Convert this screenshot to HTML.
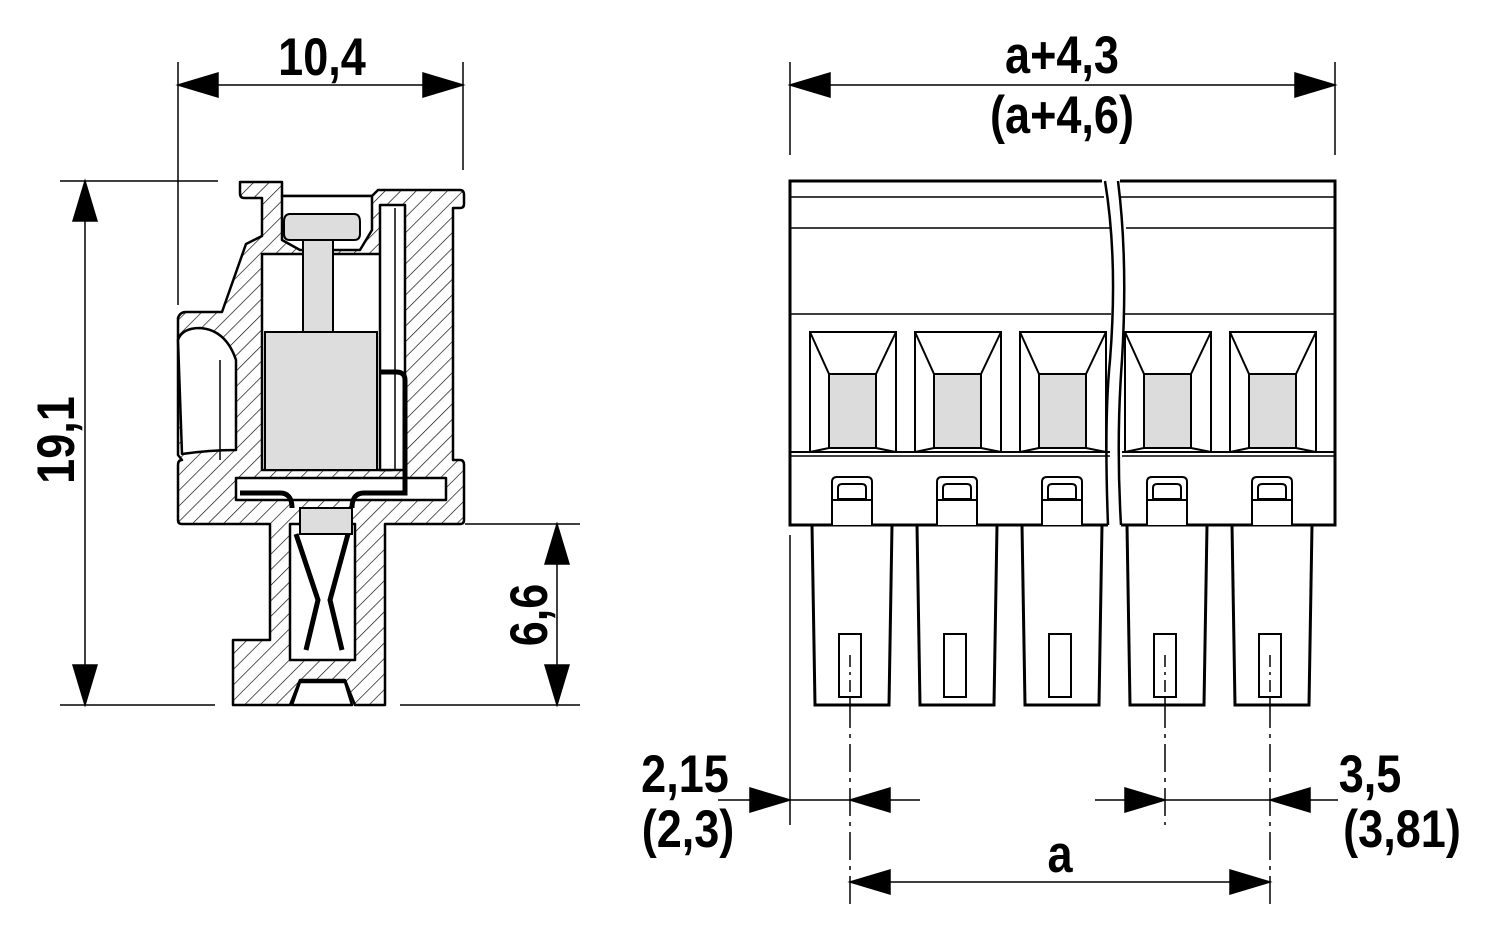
<!DOCTYPE html>
<html><head><style>
html,body{margin:0;padding:0;background:#fff;}
svg{display:block;}
text{font-family:"Liberation Sans",sans-serif;font-weight:bold;fill:#000;}
</style></head><body>
<svg width="1500" height="937" viewBox="0 0 1500 937" xmlns="http://www.w3.org/2000/svg">
<defs>
<pattern id="h" patternUnits="userSpaceOnUse" width="11" height="11" patternTransform="rotate(45)">
<rect width="11" height="11" fill="#fff"/><line x1="0" y1="0" x2="0" y2="11" stroke="#000" stroke-width="1.3"/>
</pattern>
</defs>

<g stroke="#000" stroke-width="1.5" fill="none">
<line x1="178" y1="62" x2="178" y2="305"/>
<line x1="463" y1="62" x2="463" y2="170"/>
<line x1="60" y1="181" x2="218" y2="181"/>
<line x1="60" y1="705" x2="215" y2="705"/>
<line x1="400" y1="705" x2="580" y2="705"/>
<line x1="465" y1="524" x2="580" y2="524"/>
</g>
<g fill="#000" stroke="#000" stroke-width="1.5">
<line x1="178" y1="85" x2="463" y2="85"/>
<path d="M178,85l40,-12v24z M463,85l-40,-12v24z"/>
<line x1="85" y1="181" x2="85" y2="705"/>
<path d="M85,181l-12,40h24z M85,705l-12,-40h24z"/>
<line x1="557" y1="524" x2="557" y2="705"/>
<path d="M557,524l-12,40h24z M557,705l-12,-40h24z"/>
<line x1="790" y1="85" x2="1335" y2="85"/>
<path d="M790,85l40,-12v24z M1335,85l-40,-12v24z"/>
<line x1="718" y1="800" x2="920" y2="800"/>
<path d="M790,800l-40,-12v24z M850,800l40,-12v24z"/>
<line x1="1095" y1="800" x2="1338" y2="800"/>
<path d="M1165,800l-40,-12v24z M1270,800l40,-12v24z"/>
<line x1="850" y1="882" x2="1270" y2="882"/>
<path d="M850,882l40,-12v24z M1270,882l-40,-12v24z"/>
</g>
<g stroke="#000" stroke-width="1.5" fill="none">
<line x1="790" y1="62" x2="790" y2="155"/>
<line x1="1335" y1="62" x2="1335" y2="155"/>
<line x1="790" y1="535" x2="790" y2="825"/>
<line x1="850" y1="700" x2="850" y2="905" stroke-dasharray="28,6,4,6"/>
<line x1="1165" y1="700" x2="1165" y2="825" stroke-dasharray="28,6,4,6"/>
<line x1="1270" y1="700" x2="1270" y2="905" stroke-dasharray="28,6,4,6"/>
</g>

<g font-size="53">
<text transform="translate(322,75) scale(0.85,1)" text-anchor="middle">10,4</text>
<text transform="translate(74,440) rotate(-90) scale(0.85,1)" text-anchor="middle">19,1</text>
<text transform="translate(547,615) rotate(-90) scale(0.85,1)" text-anchor="middle">6,6</text>
<text transform="translate(1062,73) scale(0.85,1)" text-anchor="middle">a+4,3</text>
<text transform="translate(1062,133) scale(0.85,1)" text-anchor="middle">(a+4,6)</text>
<text transform="translate(685,792) scale(0.85,1)" text-anchor="middle">2,15</text>
<text transform="translate(688,847) scale(0.85,1)" text-anchor="middle">(2,3)</text>
<text transform="translate(1370,792) scale(0.85,1)" text-anchor="middle">3,5</text>
<text transform="translate(1402,847) scale(0.85,1)" text-anchor="middle">(3,81)</text>
<text transform="translate(1060,872) scale(0.85,1)" text-anchor="middle">a</text>
</g>

<g stroke="#000" stroke-width="2.5" stroke-linejoin="round">
<path fill="url(#h)" d="M240,182 H282 V196 H372 L378,190 H460 Q464,190 464,195 V204 Q464,208 460,208 H453 V460 H460 Q464,460 464,465 V520 Q464,524 460,524 H385 V705 H355 L345,680 H300 L290,705 H233 V640 H270 V524 H182 Q178,524 178,520 V465 Q178,460 182,460 L178,455 V318 Q180,312 186,312 H222 L246,244 L262,236 V198 H244 Q240,198 240,193 Z"/>
<path fill="#fff" d="M262,254 H392 V470 H262 Z"/>
<path fill="#fff" d="M282,196 H372 V230 L360,250 H300 L282,240 Z"/>
<path fill="#fff" d="M380,205 H405 V470 H380 Z"/>
<path fill="#fff" d="M178,340 Q182,328 200,328 Q226,330 236,360 L236,450 Q210,450 182,454 Z"/>
<path fill="#fff" d="M236,478 H446 V500 H236 Z"/>
<path fill="#fff" d="M290,524 H355 V660 H290 Z"/>
<path fill="#fff" d="M300,682 H345 L352,705 H292 Z"/>
</g>
<g stroke="#000" stroke-width="2" fill="#ddd">
<path d="M290,214 H354 Q360,214 360,222 V234 Q360,240 354,240 H290 Q284,240 284,234 V222 Q284,214 290,214 Z"/>
<rect x="303" y="240" width="30" height="92"/>
<rect x="265" y="332" width="112" height="138"/>
<rect x="300" y="508" width="52" height="26"/>
<path fill="none" stroke-width="5" d="M240,493 H280 Q292,493 292,508 M352,508 Q352,493 364,493 H405 V380 Q405,372 396,372 H380"/>
<path fill="none" stroke-width="5" d="M296,534 L318,600 L306,650 M348,534 L330,600 L342,650"/>
</g>
<g stroke="#000" stroke-width="1.5" fill="none">
<line x1="395" y1="208" x2="395" y2="470"/>
<line x1="220" y1="460" x2="220" y2="360"/>
<line x1="262" y1="470" x2="392" y2="470"/>
</g>

<g stroke="#000" fill="none" stroke-width="3">
<path d="M1102,181 H790 V525 H1108"/>
<path d="M1120,181 H1335 V525 H1121"/>
<path stroke-width="2.5" d="M1105,181 Q1118,260 1110,360 Q1104,420 1108,525 M1118,181 Q1128,260 1122,360 Q1116,440 1121,525" />
</g>
<g stroke="#000" stroke-width="1.5" fill="none">
<line x1="790" y1="197" x2="1104" y2="197"/><line x1="1120" y1="197" x2="1335" y2="197"/>
<line x1="790" y1="228" x2="1110" y2="228"/><line x1="1126" y1="228" x2="1335" y2="228"/>
<line x1="790" y1="314" x2="1111" y2="314"/><line x1="1124" y1="314" x2="1335" y2="314"/>
<line x1="790" y1="452" x2="1110" y2="452" stroke-width="2"/><line x1="1122" y1="452" x2="1335" y2="452" stroke-width="2"/>
<line x1="790" y1="456" x2="1110" y2="456"/><line x1="1122" y1="456" x2="1335" y2="456"/>
</g>
<g stroke="#000" stroke-width="2">
<g id="w">
<rect x="810" y="332" width="86" height="120" fill="#fff"/>
<rect x="829" y="374" width="47" height="74" fill="#dcdcdc"/>
<path d="M810,332 L829,374 M896,332 L876,374 M810,452 L829,448 M896,452 L876,448" fill="none"/>
<path d="M832,525 V482 Q832,477 837,477 H867 Q872,477 872,482 V525" fill="#fff"/>
<path d="M838,499 V488 Q838,484 842,484 H862 Q866,484 866,488 V499 Z" fill="#fff"/>
<line x1="832" y1="500" x2="872" y2="500"/>
<path d="M812,525 L815,705 H889 L892,525" fill="none" stroke-width="3"/>
<rect x="839" y="634" width="22" height="63" fill="#fff"/>
</g>
<use href="#w" x="105"/>
<use href="#w" x="210"/>
<use href="#w" x="315"/>
<use href="#w" x="420"/>
</g>
<g stroke="#000" stroke-width="1.5">
<line x1="850" y1="655" x2="850" y2="700" stroke-dasharray="12,5,3,5"/>
<line x1="1165" y1="655" x2="1165" y2="700" stroke-dasharray="12,5,3,5"/>
<line x1="1270" y1="655" x2="1270" y2="700" stroke-dasharray="12,5,3,5"/>
</g>
</svg>
</body></html>
